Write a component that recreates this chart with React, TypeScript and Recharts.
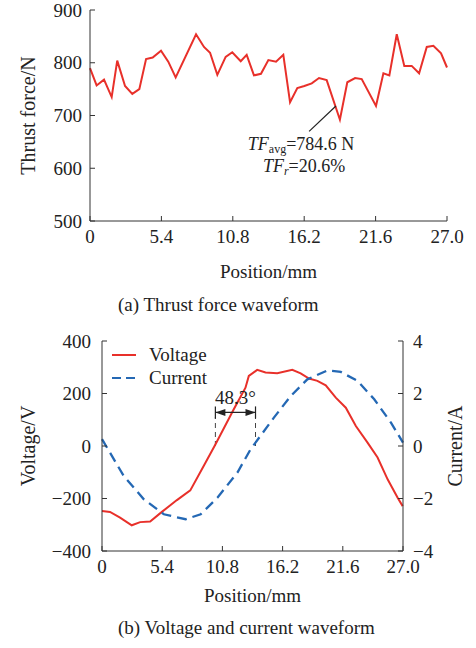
import React from 'react';
import { LineChart, Line, XAxis, YAxis, ReferenceLine, Legend } from 'recharts';

// shared axis ticks
const positionTicks = [0, 5.4, 10.8, 16.2, 21.6, 27.0];
const thrustTicks = [500, 600, 700, 800, 900];
const voltageTicks = [-400, -200, 0, 200, 400];
const currentTicks = [-4, -2, 0, 2, 4];

// (a) thrust force, position in mm / force in N
const thrustPos = [
  0, 0.5, 1.06, 1.64, 2.06, 2.65, 3.2, 3.73, 4.24, 4.74, 5.37, 5.92, 6.48, 8.02,
  8.62, 9.08, 9.63, 10.26, 10.76, 11.4, 11.85, 12.4, 12.93, 13.49, 14.07, 14.62,
  15.13, 15.68, 16.21, 16.77, 17.32, 17.9, 18.9, 19.46, 20.05, 20.55, 21.63,
  22.19, 22.64, 23.2, 23.77, 24.33, 24.89, 25.47, 25.97, 26.55, 27.0,
];
const thrustForce = [
  790, 757, 768, 735, 804, 756, 741, 750, 807, 810, 823, 802, 772, 854,
  830, 819, 777, 811, 820, 803, 815, 776, 779, 805, 802, 815,
  725, 752, 756, 761, 771, 767, 692, 763, 771, 769, 718,
  780, 776, 854, 794, 794, 780, 830, 832, 818, 791,
];

// (b) voltage (V) and current (A)
const voltagePos = [
  0, 0.72, 1.62, 2.67, 3.42, 4.32, 5.37, 6.72, 7.92, 9.12, 10.17, 11.82, 12.87,
  13.17, 13.92, 14.67, 15.72, 17.07, 17.82, 18.57, 19.32, 20.07, 20.97, 21.87,
  22.77, 23.82, 24.72, 25.62, 26.52, 26.97,
];
const voltage = [
  -248, -251, -273, -302, -290, -288, -251, -206, -169, -76, 6, 140, 222,
  267, 290, 280, 277, 290, 277, 257, 248, 231, 184, 146,
  76, 13, -44, -127, -197, -229,
];
const currentPos = [
  0, 1.95, 3.75, 5.55, 7.5, 8.85, 10.35, 12.15, 13.32, 13.77, 15.42, 16.92,
  18.42, 20.22, 21.42, 22.92, 24.42, 25.92, 27.0,
];
const current = [
  0.26, -1.14, -2.03, -2.6, -2.79, -2.6, -1.97, -1.01, -0.13, 0.13, 1.08, 1.9,
  2.54, 2.88, 2.82, 2.48, 1.78, 0.89, 0.13,
];
const seriesNames = ['Voltage', 'Current'];

const thrustAvg = '784.6 N';
const thrustRipple = '20.6%';
const phaseShift = '48.3°';
const voltageZero = 10.17;
const currentZero = 13.77;

const thrustData = thrustPos.map((x, i) => ({ x, y: thrustForce[i] }));
const voltageData = voltagePos.map((x, i) => ({ x, y: voltage[i] }));
const currentData = currentPos.map((x, i) => ({ x, y: current[i] }));

const FONT = '"Liberation Serif", "Times New Roman", serif';
const INK = '#222';
const AXIS = '#333';
const RED = '#e8302a';
const BLUE = '#2468b4';
const FS = 19;

const fmtPos = (v: number) => (v === 0 ? '0' : v.toFixed(1));
const fmtNum = (v: number) => String(v).replace('-', '\u2212');

const tickStyle = { fontSize: FS, fill: INK };

const sideLabel = (text: string, dx: number) => (props: any) => {
  const { x, y, width, height } = props.viewBox;
  const cx = x + width / 2 + dx;
  const cy = y + height / 2;
  return (
    <text
      x={cx}
      y={cy}
      transform={`rotate(-90 ${cx} ${cy})`}
      textAnchor="middle"
      dominantBaseline="central"
      fontSize={20}
      fill={INK}
    >
      {text}
    </text>
  );
};

// leader line + TF text under its lower end
const leaderShape = (p: any) => {
  const { x1, y1, x2, y2 } = p;
  const tx = x2 - 8;
  return (
    <g>
      <line x1={x1} y1={y1} x2={x2} y2={y2} stroke={INK} strokeWidth={1.2} />
      <text x={tx} y={y2 + 19} textAnchor="middle" fontSize={18} fill={INK}>
        <tspan fontStyle="italic">TF</tspan>
        <tspan fontSize={12} dy={3}>avg</tspan>
        <tspan dy={-3}>={thrustAvg}</tspan>
      </text>
      <text x={tx + 3} y={y2 + 41} textAnchor="middle" fontSize={18} fill={INK}>
        <tspan fontStyle="italic">TF</tspan>
        <tspan fontSize={12} fontStyle="italic" dy={3}>r</tspan>
        <tspan dy={-3}>={thrustRipple}</tspan>
      </text>
    </g>
  );
};

// dimension arrow between the two zero crossings
const phaseShape = (p: any) => {
  const { x1, y1, x2 } = p;
  const mid = (x1 + x2) / 2;
  return (
    <g>
      <line x1={x1} y1={y1 - 6} x2={x1} y2={y1 + 6} stroke={INK} strokeWidth={1.2} />
      <line x1={x2} y1={y1 - 6} x2={x2} y2={y1 + 6} stroke={INK} strokeWidth={1.2} />
      <line x1={x1} y1={y1} x2={x2} y2={y1} stroke={INK} strokeWidth={1.2} />
      <polygon points={`${x1},${y1} ${x1 + 10},${y1 - 3.5} ${x1 + 10},${y1 + 3.5}`} fill={INK} />
      <polygon points={`${x2},${y1} ${x2 - 10},${y1 - 3.5} ${x2 - 10},${y1 + 3.5}`} fill={INK} />
      <text x={mid} y={y1 - 8} textAnchor="middle" fontSize={FS} fill={INK}>
        {phaseShift}
      </text>
    </g>
  );
};

const renderLegend = (props: any) => {
  const rows = [...(props.payload || [])].sort(
    (a: any, b: any) => seriesNames.indexOf(a.value) - seriesNames.indexOf(b.value)
  );
  return (
    <div style={{ fontFamily: FONT, fontSize: FS, color: INK }}>
      {rows.map((r: any) => (
        <div key={r.value} style={{ display: 'flex', alignItems: 'center', height: 23 }}>
          <svg width={24} height={10} style={{ marginRight: 13 }}>
            <line
              x1={0}
              y1={5}
              x2={24}
              y2={5}
              stroke={r.color}
              strokeWidth={2}
              strokeDasharray={r.value === 'Current' ? '9 5' : undefined}
            />
          </svg>
          <span>{r.value}</span>
        </div>
      ))}
    </div>
  );
};

export default function App() {
  return (
    <div
      style={{
        position: 'absolute',
        left: 0,
        top: 0,
        width: 476,
        height: 648,
        background: '#fff',
        fontFamily: FONT,
      }}
    >
      <div style={{ position: 'absolute', left: 0, top: 0 }}>
        <LineChart width={476} height={290} margin={{ top: 10, right: 29, bottom: 0, left: 0 }}>
          <XAxis
            dataKey="x"
            type="number"
            domain={[0, 27]}
            ticks={positionTicks}
            interval={0}
            tickFormatter={fmtPos}
            height={69}
            tickSize={-5}
            tickMargin={14}
            tick={tickStyle}
            axisLine={{ stroke: AXIS }}
            tickLine={{ stroke: AXIS }}
            label={{ value: 'Position/mm', position: 'insideBottom', offset: 12, fontSize: FS, fill: INK }}
          />
          <YAxis
            type="number"
            domain={[500, 900]}
            ticks={thrustTicks}
            interval={0}
            width={90}
            tickSize={-5}
            tickMargin={13}
            tick={tickStyle}
            axisLine={{ stroke: AXIS }}
            tickLine={{ stroke: AXIS }}
            label={{ position: 'center', content: sideLabel('Thrust force/N', -17) }}
          />
          <Line
            data={thrustData}
            dataKey="y"
            stroke={RED}
            strokeWidth={2}
            dot={false}
            isAnimationActive={false}
          />
          <ReferenceLine
            segment={[{ x: 18.6, y: 718 }, { x: 16.57, y: 670 }]}
            shape={leaderShape}
          />
        </LineChart>
      </div>

      <div style={{ position: 'absolute', left: 0, top: 320 }}>
        <LineChart width={476} height={328} margin={{ top: 21, right: 0, bottom: 0, left: 0 }}>
          <XAxis
            dataKey="x"
            type="number"
            domain={[0, 27]}
            ticks={positionTicks}
            interval={0}
            tickFormatter={fmtPos}
            height={97}
            tickSize={-5}
            tickMargin={14}
            tick={tickStyle}
            axisLine={{ stroke: AXIS }}
            tickLine={{ stroke: AXIS }}
            label={{ value: 'Position/mm', position: 'insideBottom', offset: 46, fontSize: FS, fill: INK }}
          />
          <YAxis
            yAxisId="v"
            type="number"
            domain={[-400, 400]}
            ticks={voltageTicks}
            interval={0}
            width={102}
            tickSize={-5}
            tickMargin={16}
            tickFormatter={fmtNum}
            tick={tickStyle}
            axisLine={{ stroke: AXIS }}
            tickLine={{ stroke: AXIS }}
            label={{ position: 'center', content: sideLabel('Voltage/V', -23) }}
          />
          <YAxis
            yAxisId="c"
            orientation="right"
            type="number"
            domain={[-4, 4]}
            ticks={currentTicks}
            interval={0}
            width={73}
            tickSize={-5}
            tickMargin={15}
            tickFormatter={fmtNum}
            tick={tickStyle}
            axisLine={{ stroke: AXIS }}
            tickLine={{ stroke: AXIS }}
            label={{ position: 'center', content: sideLabel('Current/A', 15) }}
          />
          <Legend
            layout="vertical"
            align="center"
            verticalAlign="middle"
            wrapperStyle={{ left: 112, top: 23, width: 130 }}
            content={renderLegend}
          />
          <ReferenceLine
            yAxisId="v"
            segment={[{ x: voltageZero, y: 0 }, { x: voltageZero, y: 110 }]}
            stroke="#444"
            strokeDasharray="5 4"
          />
          <ReferenceLine
            yAxisId="v"
            segment={[{ x: currentZero, y: 0 }, { x: currentZero, y: 110 }]}
            stroke="#444"
            strokeDasharray="5 4"
          />
          <Line
            yAxisId="v"
            data={voltageData}
            dataKey="y"
            name="Voltage"
            stroke={RED}
            strokeWidth={2}
            dot={false}
            isAnimationActive={false}
          />
          <Line
            yAxisId="c"
            data={currentData}
            dataKey="y"
            name="Current"
            stroke={BLUE}
            strokeWidth={2.3}
            strokeDasharray="10 6"
            dot={false}
            isAnimationActive={false}
          />
          <ReferenceLine
            yAxisId="v"
            segment={[{ x: voltageZero, y: 128 }, { x: currentZero, y: 128 }]}
            shape={phaseShape}
          />
        </LineChart>
      </div>

      <svg
        width={476}
        height={648}
        style={{ position: 'absolute', left: 0, top: 0, pointerEvents: 'none' }}
      >
        <text x={118} y={311} fontSize={FS} fill={INK}>
          (a) Thrust force waveform
        </text>
        <text x={118} y={634} fontSize={FS} fill={INK}>
          (b) Voltage and current waveform
        </text>
      </svg>
    </div>
  );
}
